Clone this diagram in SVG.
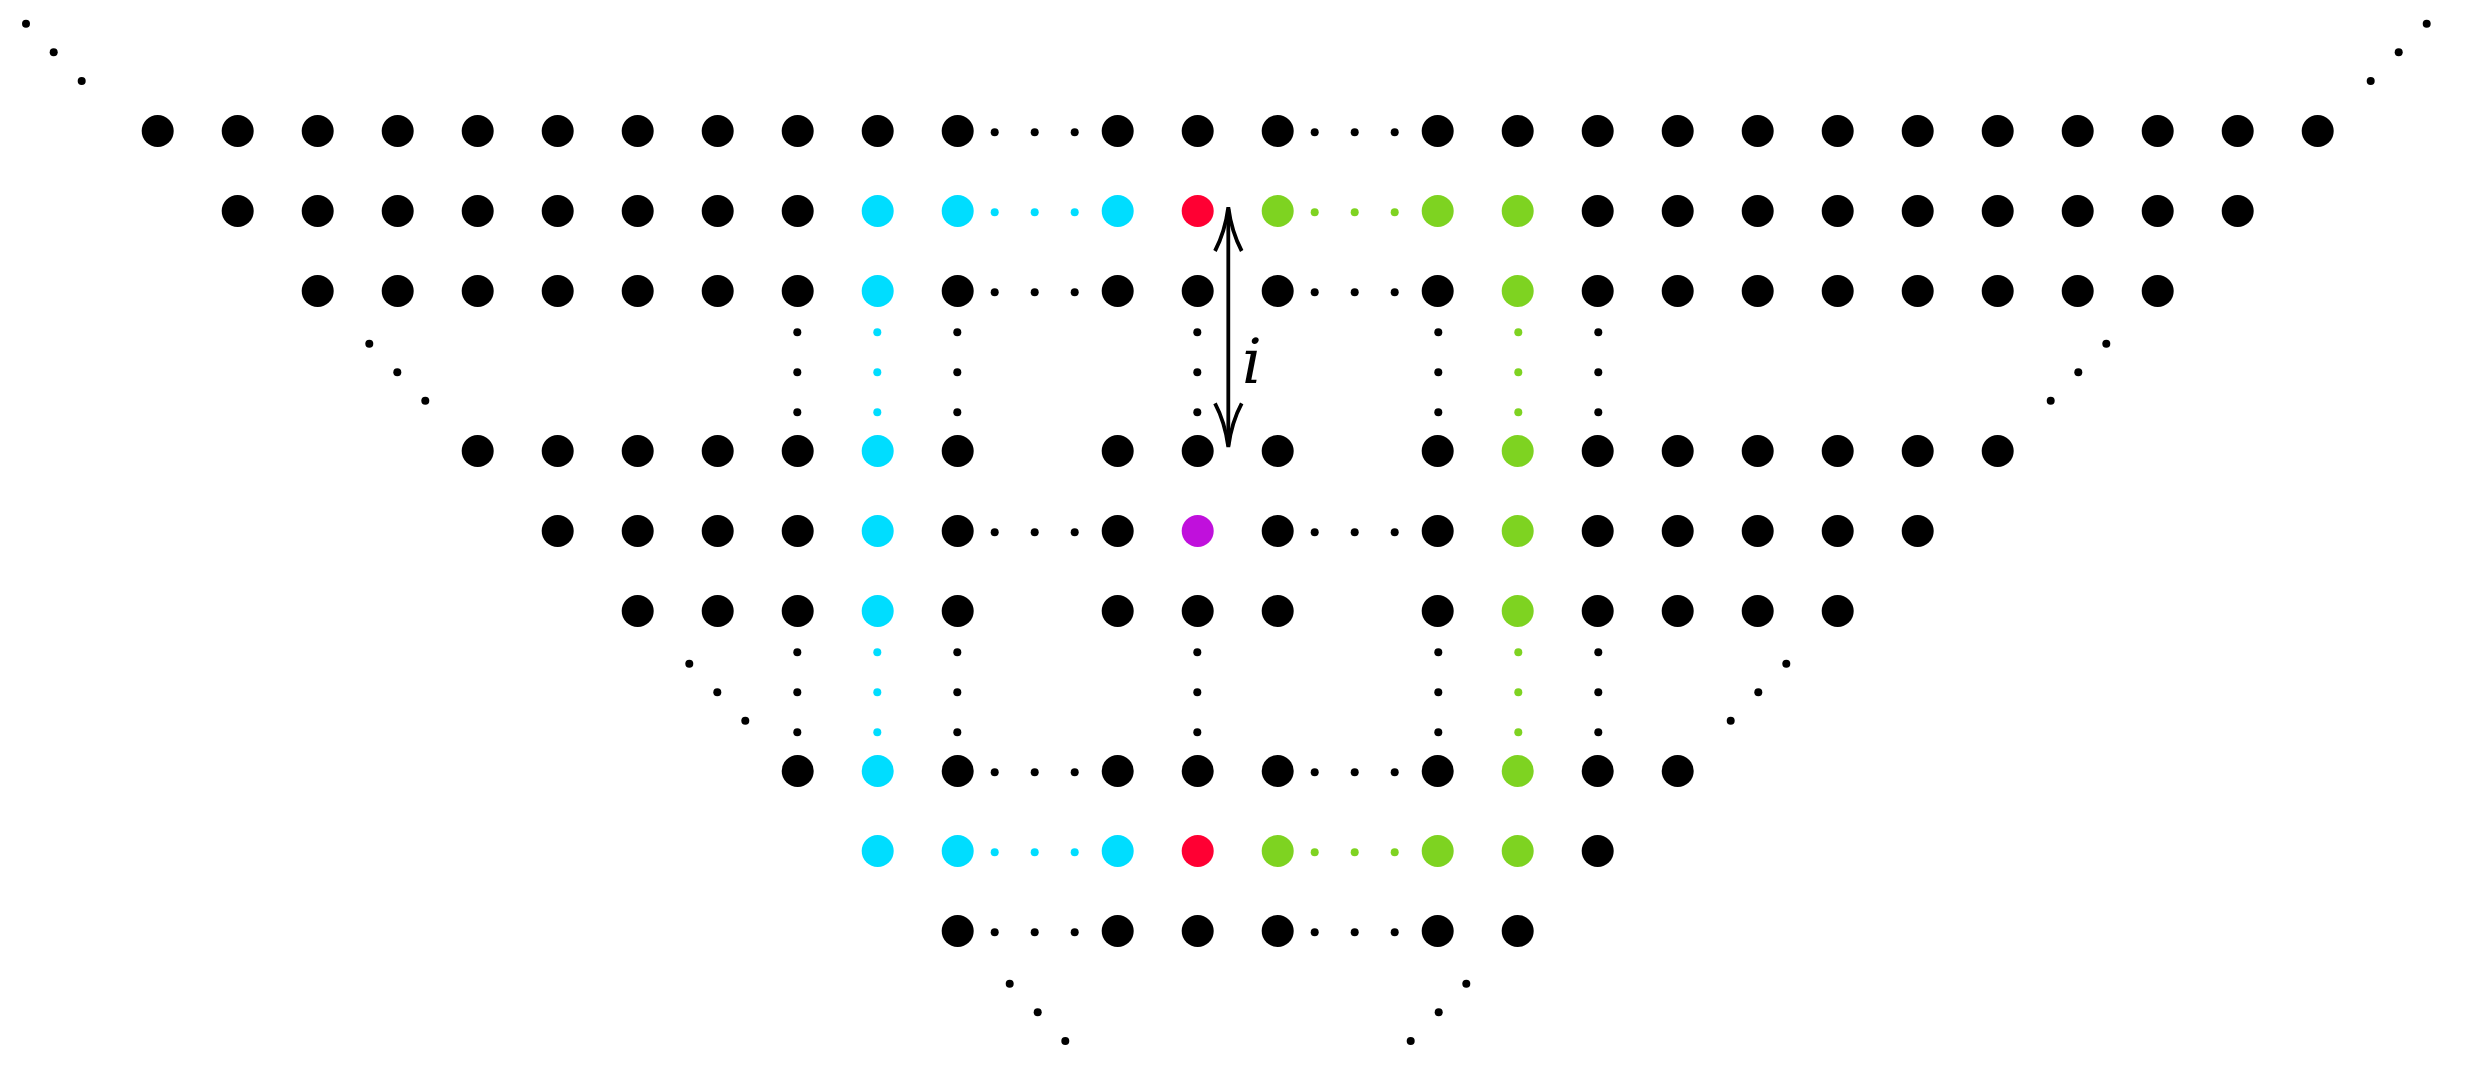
<svg xmlns="http://www.w3.org/2000/svg" width="2492" height="1088" viewBox="0 0 2492 1088">
<style>
.b{fill:#000000}.c{fill:#00DDFF}.g{fill:#7ED321}.r{fill:#FF0033}.p{fill:#C010DC}
.arr{fill:none;stroke:#000;stroke-width:3.8}
.lbl{font-family:"DejaVu Serif","Liberation Serif",serif;font-style:italic;font-size:62px;fill:#000}
</style>
<defs>
<circle id="B" r="16"/>
<circle id="s" r="4"/>
</defs>
<rect width="2492" height="1088" fill="#fff"/>

<g id="rowA">
<use href="#B" class="b" x="157.7" y="131"/><use href="#B" class="b" x="237.7" y="131"/><use href="#B" class="b" x="317.7" y="131"/><use href="#B" class="b" x="397.7" y="131"/><use href="#B" class="b" x="477.7" y="131"/><use href="#B" class="b" x="557.7" y="131"/><use href="#B" class="b" x="637.7" y="131"/><use href="#B" class="b" x="717.7" y="131"/><use href="#B" class="b" x="797.7" y="131"/><use href="#B" class="b" x="877.7" y="131"/><use href="#B" class="b" x="957.7" y="131"/>
<use href="#s" class="b" x="994.7" y="132.3"/><use href="#s" class="b" x="1034.7" y="132.3"/><use href="#s" class="b" x="1074.7" y="132.3"/>
<use href="#B" class="b" x="1117.7" y="131"/><use href="#B" class="b" x="1197.7" y="131"/><use href="#B" class="b" x="1277.7" y="131"/>
<use href="#s" class="b" x="1314.7" y="132.3"/><use href="#s" class="b" x="1354.7" y="132.3"/><use href="#s" class="b" x="1394.7" y="132.3"/>
<use href="#B" class="b" x="1437.7" y="131"/><use href="#B" class="b" x="1517.7" y="131"/><use href="#B" class="b" x="1597.7" y="131"/><use href="#B" class="b" x="1677.7" y="131"/><use href="#B" class="b" x="1757.7" y="131"/><use href="#B" class="b" x="1837.7" y="131"/><use href="#B" class="b" x="1917.7" y="131"/><use href="#B" class="b" x="1997.7" y="131"/><use href="#B" class="b" x="2077.7" y="131"/><use href="#B" class="b" x="2157.7" y="131"/><use href="#B" class="b" x="2237.7" y="131"/><use href="#B" class="b" x="2317.7" y="131"/>
</g>

<g id="rowB">
<use href="#B" class="b" x="237.7" y="211"/><use href="#B" class="b" x="317.7" y="211"/><use href="#B" class="b" x="397.7" y="211"/><use href="#B" class="b" x="477.7" y="211"/><use href="#B" class="b" x="557.7" y="211"/><use href="#B" class="b" x="637.7" y="211"/><use href="#B" class="b" x="717.7" y="211"/><use href="#B" class="b" x="797.7" y="211"/>
<use href="#B" class="c" x="877.7" y="211"/><use href="#B" class="c" x="957.7" y="211"/>
<use href="#s" class="c" x="994.7" y="212.3"/><use href="#s" class="c" x="1034.7" y="212.3"/><use href="#s" class="c" x="1074.7" y="212.3"/>
<use href="#B" class="c" x="1117.7" y="211"/>
<use href="#B" class="r" x="1197.7" y="211"/>
<use href="#B" class="g" x="1277.7" y="211"/>
<use href="#s" class="g" x="1314.7" y="212.3"/><use href="#s" class="g" x="1354.7" y="212.3"/><use href="#s" class="g" x="1394.7" y="212.3"/>
<use href="#B" class="g" x="1437.7" y="211"/><use href="#B" class="g" x="1517.7" y="211"/>
<use href="#B" class="b" x="1597.7" y="211"/><use href="#B" class="b" x="1677.7" y="211"/><use href="#B" class="b" x="1757.7" y="211"/><use href="#B" class="b" x="1837.7" y="211"/><use href="#B" class="b" x="1917.7" y="211"/><use href="#B" class="b" x="1997.7" y="211"/><use href="#B" class="b" x="2077.7" y="211"/><use href="#B" class="b" x="2157.7" y="211"/><use href="#B" class="b" x="2237.7" y="211"/>
</g>

<g id="rowC">
<use href="#B" class="b" x="317.7" y="291"/><use href="#B" class="b" x="397.7" y="291"/><use href="#B" class="b" x="477.7" y="291"/><use href="#B" class="b" x="557.7" y="291"/><use href="#B" class="b" x="637.7" y="291"/><use href="#B" class="b" x="717.7" y="291"/><use href="#B" class="b" x="797.7" y="291"/>
<use href="#B" class="c" x="877.7" y="291"/><use href="#B" class="b" x="957.7" y="291"/>
<use href="#s" class="b" x="994.7" y="292.3"/><use href="#s" class="b" x="1034.7" y="292.3"/><use href="#s" class="b" x="1074.7" y="292.3"/>
<use href="#B" class="b" x="1117.7" y="291"/><use href="#B" class="b" x="1197.7" y="291"/><use href="#B" class="b" x="1277.7" y="291"/>
<use href="#s" class="b" x="1314.7" y="292.3"/><use href="#s" class="b" x="1354.7" y="292.3"/><use href="#s" class="b" x="1394.7" y="292.3"/>
<use href="#B" class="b" x="1437.7" y="291"/><use href="#B" class="g" x="1517.7" y="291"/>
<use href="#B" class="b" x="1597.7" y="291"/><use href="#B" class="b" x="1677.7" y="291"/><use href="#B" class="b" x="1757.7" y="291"/><use href="#B" class="b" x="1837.7" y="291"/><use href="#B" class="b" x="1917.7" y="291"/><use href="#B" class="b" x="1997.7" y="291"/><use href="#B" class="b" x="2077.7" y="291"/><use href="#B" class="b" x="2157.7" y="291"/>
</g>

<g id="gapCD">
<use href="#s" class="b" x="797.3" y="332.3"/><use href="#s" class="b" x="797.3" y="372.3"/><use href="#s" class="b" x="797.3" y="412.3"/>
<use href="#s" class="c" x="877.3" y="332.3"/><use href="#s" class="c" x="877.3" y="372.3"/><use href="#s" class="c" x="877.3" y="412.3"/>
<use href="#s" class="b" x="957.3" y="332.3"/><use href="#s" class="b" x="957.3" y="372.3"/><use href="#s" class="b" x="957.3" y="412.3"/>
<use href="#s" class="b" x="1197.3" y="332.3"/><use href="#s" class="b" x="1197.3" y="372.3"/><use href="#s" class="b" x="1197.3" y="412.3"/>
<use href="#s" class="b" x="1438.3" y="332.3"/><use href="#s" class="b" x="1438.3" y="372.3"/><use href="#s" class="b" x="1438.3" y="412.3"/>
<use href="#s" class="g" x="1518.3" y="332.3"/><use href="#s" class="g" x="1518.3" y="372.3"/><use href="#s" class="g" x="1518.3" y="412.3"/>
<use href="#s" class="b" x="1598.3" y="332.3"/><use href="#s" class="b" x="1598.3" y="372.3"/><use href="#s" class="b" x="1598.3" y="412.3"/>
<use href="#s" class="b" x="369.3" y="343.7"/><use href="#s" class="b" x="397.3" y="372.3"/><use href="#s" class="b" x="425.3" y="400.7"/>
<use href="#s" class="b" x="2106.3" y="343.7"/><use href="#s" class="b" x="2078.3" y="372.3"/><use href="#s" class="b" x="2050.7" y="400.7"/>
</g>

<g id="rowD">
<use href="#B" class="b" x="477.7" y="451"/><use href="#B" class="b" x="557.7" y="451"/><use href="#B" class="b" x="637.7" y="451"/><use href="#B" class="b" x="717.7" y="451"/><use href="#B" class="b" x="797.7" y="451"/>
<use href="#B" class="c" x="877.7" y="451"/><use href="#B" class="b" x="957.7" y="451"/>
<use href="#B" class="b" x="1117.7" y="451"/><use href="#B" class="b" x="1197.7" y="451"/><use href="#B" class="b" x="1277.7" y="451"/>
<use href="#B" class="b" x="1437.7" y="451"/><use href="#B" class="g" x="1517.7" y="451"/>
<use href="#B" class="b" x="1597.7" y="451"/><use href="#B" class="b" x="1677.7" y="451"/><use href="#B" class="b" x="1757.7" y="451"/><use href="#B" class="b" x="1837.7" y="451"/><use href="#B" class="b" x="1917.7" y="451"/><use href="#B" class="b" x="1997.7" y="451"/>
</g>

<g id="rowE">
<use href="#B" class="b" x="557.7" y="531"/><use href="#B" class="b" x="637.7" y="531"/><use href="#B" class="b" x="717.7" y="531"/><use href="#B" class="b" x="797.7" y="531"/>
<use href="#B" class="c" x="877.7" y="531"/><use href="#B" class="b" x="957.7" y="531"/>
<use href="#s" class="b" x="994.7" y="532.3"/><use href="#s" class="b" x="1034.7" y="532.3"/><use href="#s" class="b" x="1074.7" y="532.3"/>
<use href="#B" class="b" x="1117.7" y="531"/><use href="#B" class="p" x="1197.7" y="531"/><use href="#B" class="b" x="1277.7" y="531"/>
<use href="#s" class="b" x="1314.7" y="532.3"/><use href="#s" class="b" x="1354.7" y="532.3"/><use href="#s" class="b" x="1394.7" y="532.3"/>
<use href="#B" class="b" x="1437.7" y="531"/><use href="#B" class="g" x="1517.7" y="531"/>
<use href="#B" class="b" x="1597.7" y="531"/><use href="#B" class="b" x="1677.7" y="531"/><use href="#B" class="b" x="1757.7" y="531"/><use href="#B" class="b" x="1837.7" y="531"/><use href="#B" class="b" x="1917.7" y="531"/>
</g>

<g id="rowF">
<use href="#B" class="b" x="637.7" y="611"/><use href="#B" class="b" x="717.7" y="611"/><use href="#B" class="b" x="797.7" y="611"/>
<use href="#B" class="c" x="877.7" y="611"/><use href="#B" class="b" x="957.7" y="611"/>
<use href="#B" class="b" x="1117.7" y="611"/><use href="#B" class="b" x="1197.7" y="611"/><use href="#B" class="b" x="1277.7" y="611"/>
<use href="#B" class="b" x="1437.7" y="611"/><use href="#B" class="g" x="1517.7" y="611"/>
<use href="#B" class="b" x="1597.7" y="611"/><use href="#B" class="b" x="1677.7" y="611"/><use href="#B" class="b" x="1757.7" y="611"/><use href="#B" class="b" x="1837.7" y="611"/>
</g>

<g id="gapFG">
<use href="#s" class="b" x="797.3" y="652.3"/><use href="#s" class="b" x="797.3" y="692.3"/><use href="#s" class="b" x="797.3" y="732.3"/>
<use href="#s" class="c" x="877.3" y="652.3"/><use href="#s" class="c" x="877.3" y="692.3"/><use href="#s" class="c" x="877.3" y="732.3"/>
<use href="#s" class="b" x="957.3" y="652.3"/><use href="#s" class="b" x="957.3" y="692.3"/><use href="#s" class="b" x="957.3" y="732.3"/>
<use href="#s" class="b" x="1197.3" y="652.3"/><use href="#s" class="b" x="1197.3" y="692.3"/><use href="#s" class="b" x="1197.3" y="732.3"/>
<use href="#s" class="b" x="1438.3" y="652.3"/><use href="#s" class="b" x="1438.3" y="692.3"/><use href="#s" class="b" x="1438.3" y="732.3"/>
<use href="#s" class="g" x="1518.3" y="652.3"/><use href="#s" class="g" x="1518.3" y="692.3"/><use href="#s" class="g" x="1518.3" y="732.3"/>
<use href="#s" class="b" x="1598.3" y="652.3"/><use href="#s" class="b" x="1598.3" y="692.3"/><use href="#s" class="b" x="1598.3" y="732.3"/>
<use href="#s" class="b" x="689.3" y="663.7"/><use href="#s" class="b" x="717.3" y="692.3"/><use href="#s" class="b" x="745.3" y="720.7"/>
<use href="#s" class="b" x="1786.3" y="663.7"/><use href="#s" class="b" x="1758.3" y="692.3"/><use href="#s" class="b" x="1730.7" y="720.7"/>
</g>

<g id="rowG">
<use href="#B" class="b" x="797.7" y="771"/><use href="#B" class="c" x="877.7" y="771"/><use href="#B" class="b" x="957.7" y="771"/>
<use href="#s" class="b" x="994.7" y="772.3"/><use href="#s" class="b" x="1034.7" y="772.3"/><use href="#s" class="b" x="1074.7" y="772.3"/>
<use href="#B" class="b" x="1117.7" y="771"/><use href="#B" class="b" x="1197.7" y="771"/><use href="#B" class="b" x="1277.7" y="771"/>
<use href="#s" class="b" x="1314.7" y="772.3"/><use href="#s" class="b" x="1354.7" y="772.3"/><use href="#s" class="b" x="1394.7" y="772.3"/>
<use href="#B" class="b" x="1437.7" y="771"/><use href="#B" class="g" x="1517.7" y="771"/><use href="#B" class="b" x="1597.7" y="771"/><use href="#B" class="b" x="1677.7" y="771"/>
</g>

<g id="rowH">
<use href="#B" class="c" x="877.7" y="851"/><use href="#B" class="c" x="957.7" y="851"/>
<use href="#s" class="c" x="994.7" y="852.3"/><use href="#s" class="c" x="1034.7" y="852.3"/><use href="#s" class="c" x="1074.7" y="852.3"/>
<use href="#B" class="c" x="1117.7" y="851"/><use href="#B" class="r" x="1197.7" y="851"/><use href="#B" class="g" x="1277.7" y="851"/>
<use href="#s" class="g" x="1314.7" y="852.3"/><use href="#s" class="g" x="1354.7" y="852.3"/><use href="#s" class="g" x="1394.7" y="852.3"/>
<use href="#B" class="g" x="1437.7" y="851"/><use href="#B" class="g" x="1517.7" y="851"/><use href="#B" class="b" x="1597.7" y="851"/>
</g>

<g id="rowI">
<use href="#B" class="b" x="957.7" y="931"/>
<use href="#s" class="b" x="994.7" y="932.3"/><use href="#s" class="b" x="1034.7" y="932.3"/><use href="#s" class="b" x="1074.7" y="932.3"/>
<use href="#B" class="b" x="1117.7" y="931"/><use href="#B" class="b" x="1197.7" y="931"/><use href="#B" class="b" x="1277.7" y="931"/>
<use href="#s" class="b" x="1314.7" y="932.3"/><use href="#s" class="b" x="1354.7" y="932.3"/><use href="#s" class="b" x="1394.7" y="932.3"/>
<use href="#B" class="b" x="1437.7" y="931"/><use href="#B" class="b" x="1517.7" y="931"/>
</g>

<g id="diagonals">
<use href="#s" class="b" x="26" y="23.7"/><use href="#s" class="b" x="53.7" y="52.3"/><use href="#s" class="b" x="81.7" y="81"/>
<use href="#s" class="b" x="2426.7" y="23.7"/><use href="#s" class="b" x="2398.7" y="52.3"/><use href="#s" class="b" x="2370.7" y="81"/>
<use href="#s" class="b" x="1009.7" y="983.7"/><use href="#s" class="b" x="1037.7" y="1012.3"/><use href="#s" class="b" x="1065.3" y="1041"/>
<use href="#s" class="b" x="1466.3" y="983.7"/><use href="#s" class="b" x="1438.7" y="1012.3"/><use href="#s" class="b" x="1410.7" y="1041"/>
</g>

<g id="connectors">
<line class="arr" x1="1228.3" y1="209" x2="1228.3" y2="445.5"/>
<path class="arr" d="M1215,251 Q1225,232 1228.3,207.3 Q1231.6,232 1241.7,251"/>
<path class="arr" d="M1215,403.3 Q1225,422 1228.3,447 Q1231.6,422 1241.7,403.3"/>
<text class="lbl" x="1242" y="383">i</text>
</g>
</svg>
